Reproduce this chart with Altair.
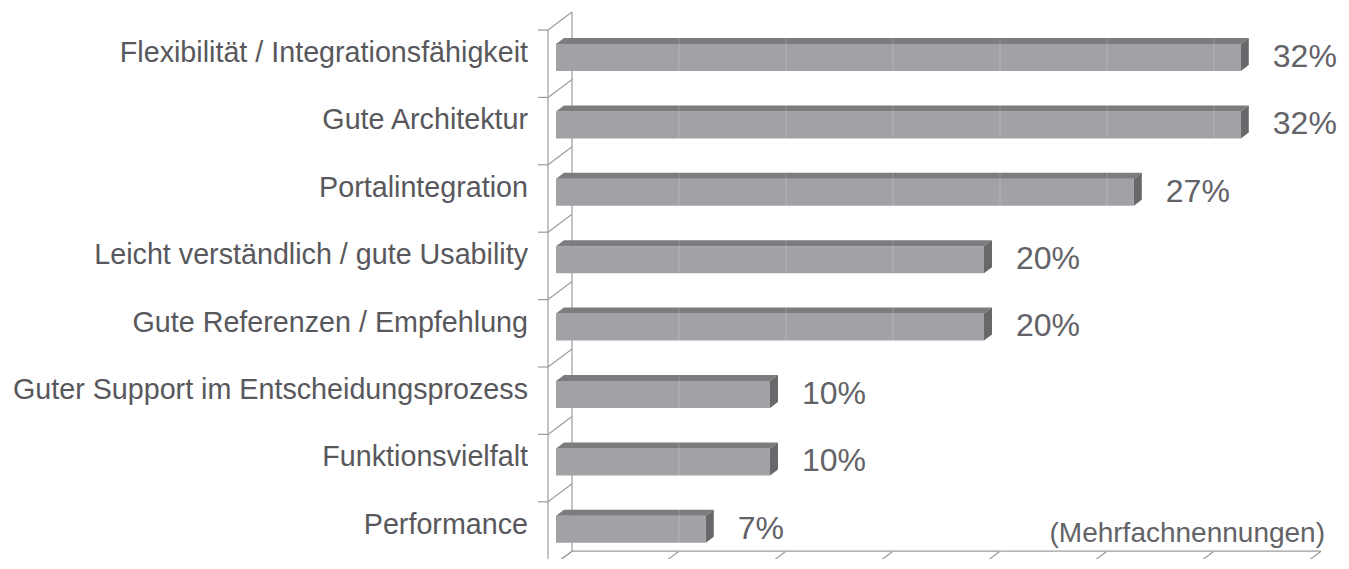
import altair as alt
import pandas as pd

# ---------------- data ----------------
categories = [
    "Flexibilität / Integrationsfähigkeit",
    "Gute Architektur",
    "Portalintegration",
    "Leicht verständlich / gute Usability",
    "Gute Referenzen / Empfehlung",
    "Guter Support im Entscheidungsprozess",
    "Funktionsvielfalt",
    "Performance",
]
values = [32, 32, 27, 20, 20, 10, 10, 7]
x_ticks = [0, 5, 10, 15, 20, 25, 30, 35]
note_text = "(Mehrfachnennungen)"

# ---------------- geometry (styles) ----------------
FONT = "Liberation Sans"
W, H = 749, 520
XMAX = x_ticks[-1]
KX = W / XMAX            # px per percent
KY = 67.4                # px per category row
YMAX = H / KY
DEPTH_X = 24 / KX        # full depth of the 3D box, in data units
DEPTH_Y = 18 / KY
BAR_TOP = 20 / KY
BAR_BOT = 47 / KY
N = len(categories)

FRONT = "#a2a1a6"
TOP = "#7c7c7f"
SIDE = "#68686b"
LINE = "#9c9c9c"
TEXT = "#58585c"
VALTEXT = "#626267"


def proj(x, y, t):
    return x + t * DEPTH_X, y - t * DEPTH_Y


xs = alt.Scale(domain=[0, XMAX], nice=False, zero=False)
ys = alt.Scale(domain=[0, YMAX], reverse=True, nice=False, zero=False)

front_rows, top_rows, side_rows = [], [], []
for i, (c, v) in enumerate(zip(categories, values)):
    yt, yb = i + BAR_TOP, i + BAR_BOT
    ax, ay = proj(0, yt, 1 / 3)
    bx, by = proj(0, yt, 2 / 3)
    cx, cy = proj(v, yt, 1 / 3)
    dx_, dy_ = proj(v, yt, 2 / 3)
    cbx, cby = proj(v, yb, 1 / 3)
    dbx, dby = proj(v, yb, 2 / 3)
    front_rows.append(dict(cat=c, x0=ax, x1=cbx, y0=ay, y1=cby))
    # top face: horizontal area, y independent
    top_rows += [
        dict(cat=c, py=ay, xl=ax, xr=cx),
        dict(cat=c, py=by, xl=bx, xr=dx_),
    ]
    # side face: vertical area, x independent
    side_rows += [
        dict(cat=c, px=cx, ylo=cy, yhi=cby),
        dict(cat=c, px=dx_, ylo=dy_, yhi=dby),
    ]

front_df = pd.DataFrame(front_rows)
top_df = pd.DataFrame(top_rows)
side_df = pd.DataFrame(side_rows)

# frame lines
lines = []
lines.append((*proj(0, 0, 0), *proj(0, N, 0)))
lines.append((*proj(0, 0, 1), *proj(0, N, 1)))
lines.append((*proj(0, N, 1), *proj(XMAX, N, 1)))
for k in range(N + 1):
    lines.append((-10 / KX, k, 0, k))
    lines.append((*proj(0, k, 0), *proj(0, k, 1)))
for xt in x_ticks:
    lines.append((*proj(xt, N, 0), *proj(xt, N, 1)))
lines_df = pd.DataFrame(lines, columns=["x", "y", "x2", "y2"])

grid_df = pd.DataFrame(
    [dict(x=xt + DEPTH_X, y=0, y2=N) for xt in x_ticks[1:-1]]
)

label_df = pd.DataFrame(
    dict(cat=categories, lx=[0] * N, ly=[i + 0.475 for i in range(N)])
)
value_df = pd.DataFrame(
    dict(
        txt=[f"{v}%" for v in values],
        vx=[v + 2 / 3 * DEPTH_X for v in values],
        vy=[i + 0.545 for i in range(N)],
    )
)
note_df = pd.DataFrame(dict(txt=[note_text], nx=[XMAX + DEPTH_X], ny=[7.6]))

frame = alt.Chart(lines_df).mark_rule(color=LINE, strokeWidth=1.2).encode(
    x=alt.X("x:Q", scale=xs, axis=None),
    x2="x2:Q",
    y=alt.Y("y:Q", scale=ys, axis=None),
    y2="y2:Q",
)

front = alt.Chart(front_df).mark_rect(color=FRONT).encode(
    x=alt.X("x0:Q", scale=xs, axis=None),
    x2="x1:Q",
    y=alt.Y("y0:Q", scale=ys, axis=None),
    y2="y1:Q",
)

top = alt.Chart(top_df).mark_area(
    color=TOP, fillOpacity=1, orient="horizontal", interpolate="linear"
).encode(
    y=alt.Y("py:Q", scale=ys, axis=None, stack=None),
    x=alt.X("xl:Q", scale=xs, axis=None, stack=None),
    x2="xr:Q",
    detail="cat:N",
)

side = alt.Chart(side_df).mark_area(
    color=SIDE, fillOpacity=1, orient="vertical", interpolate="linear"
).encode(
    x=alt.X("px:Q", scale=xs, axis=None, stack=None),
    y=alt.Y("ylo:Q", scale=ys, axis=None, stack=None),
    y2="yhi:Q",
    detail="cat:N",
)

grid = alt.Chart(grid_df).mark_rule(color="#ffffff", opacity=0.2, strokeWidth=1).encode(
    x=alt.X("x:Q", scale=xs, axis=None),
    y=alt.Y("y:Q", scale=ys, axis=None),
    y2="y2:Q",
)

labels = alt.Chart(label_df).mark_text(
    align="right", baseline="alphabetic", dx=-20, fontSize=28.7, font=FONT, color=TEXT
).encode(
    x=alt.X("lx:Q", scale=xs, axis=None),
    y=alt.Y("ly:Q", scale=ys, axis=None),
    text="cat:N",
)

vals = alt.Chart(value_df).mark_text(
    align="left", baseline="alphabetic", dx=24, fontSize=32, font=FONT, color=VALTEXT
).encode(
    x=alt.X("vx:Q", scale=xs, axis=None),
    y=alt.Y("vy:Q", scale=ys, axis=None),
    text="txt:N",
)

note = alt.Chart(note_df).mark_text(
    align="right", baseline="alphabetic", dx=4, fontSize=28, font=FONT, color=VALTEXT
).encode(
    x=alt.X("nx:Q", scale=xs, axis=None),
    y=alt.Y("ny:Q", scale=ys, axis=None),
    text="txt:N",
)

chart = (
    alt.layer(frame, front, top, side, grid, labels, vals, note)
    .properties(
        width=W,
        height=H,
        padding={"left": 540, "top": 22, "right": 44, "bottom": 9},
        autosize="none",
        background="white",
    )
    .configure_view(stroke=None)
)

chart.save("out.html", embed_options={"renderer": "svg", "actions": False})
